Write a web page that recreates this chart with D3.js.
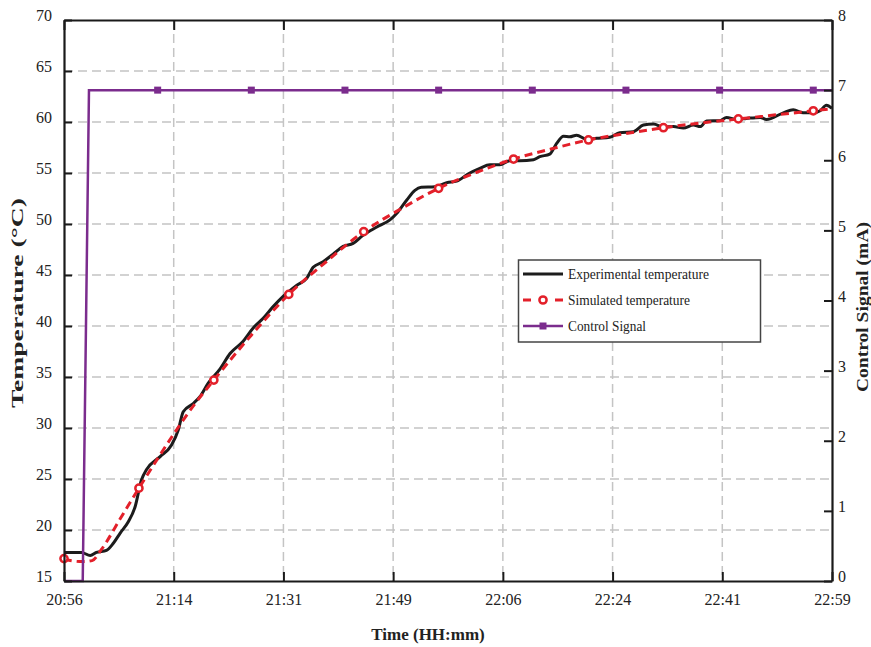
<!DOCTYPE html>
<html>
<head>
<meta charset="utf-8">
<script src="https://cdn.jsdelivr.net/npm/d3@7"></script>
<style>
  body { margin: 0; background: #fff; }
  svg { display: block; font-family: "Liberation Serif", "Times New Roman", serif; }
</style>
</head>
<body>
<div class="container"></div>
<script>
// time in minutes after 20:56
const xTickLabels = ["20:56", "21:14", "21:31", "21:49", "22:06", "22:24", "22:41", "22:59"];
const tempTicks = [15, 20, 25, 30, 35, 40, 45, 50, 55, 60, 65, 70];
const signalTicks = [0, 1, 2, 3, 4, 5, 6, 7, 8];

const expTime = [0, 2.8, 4.2, 5.2, 6.8, 7.9, 9.0, 10.3, 11.4, 12.4, 13.2, 15.4, 17.2, 18.3, 19.1, 20.7, 21.8, 23.1, 25,
                 26.6, 28.7, 30.3, 31.9, 33.5, 35.1, 37.3, 38.9, 39.9, 41.5, 43.1, 44.7, 46.3, 47.9, 50.1, 52.2, 53.3,
                 54.9, 56.2, 57.2, 59.4, 61.3, 62.9, 64.7, 66.6, 68.2, 69.8, 71.4, 73.0, 75.2, 76.2, 77.8, 78.9, 80,
                 81, 82.1, 83.7, 85.3, 87.4, 89, 91.2, 92.8, 94.4, 96, 97.6, 99.2, 100.8, 101.9, 102.9, 105.1, 106.1,
                 107.7, 109.3, 111.5, 112.5, 115.2, 116.8, 118.4, 120, 121.1, 122.1, 123];
const expTemp = [17.8, 17.8, 17.5, 17.8, 18.0, 18.7, 19.7, 20.8, 22.3, 24.9, 25.9, 27.2, 28.3, 29.8, 31.6, 32.4, 33.1, 34.4, 35.8,
                 37.3, 38.5, 39.8, 40.75, 41.9, 42.9, 44.0, 44.7, 45.75, 46.3, 47.05, 47.8, 48.1, 48.9, 49.7, 50.4, 51.05,
                 52.35, 53.3, 53.6, 53.65, 54.05, 54.2, 54.9, 55.45, 55.8, 55.8, 56.2, 56.2, 56.3, 56.6, 56.85, 57.9, 58.6,
                 58.55, 58.7, 58.3, 58.4, 58.5, 58.95, 59.05, 59.7, 59.8, 59.5, 59.55, 59.4, 59.7, 59.55, 60.1, 60.13, 60.45,
                 60.25, 60.35, 60.45, 60.25, 60.9, 61.2, 60.9, 60.9, 61.1, 61.65, 61.35];

const simTime = [0, 1, 3, 4.5, 6, 9, 12, 15, 18, 21, 24, 30, 36, 42, 48, 54, 60, 66, 72, 78, 84, 90, 96, 102, 108, 114, 120, 123];
const simTemp = [17.2, 17.0, 16.9, 17.0, 18.1, 21.1, 24.1, 27.0, 29.8, 32.4, 34.7, 39.1, 43.1, 46.3, 49.25, 51.5, 53.5, 55.05,
                 56.37, 57.35, 58.24, 58.87, 59.44, 59.9, 60.3, 60.7, 61.1, 61.3];
const simMarkerEvery = 12;

const ctrlTime = [0, 3, 4, 15, 30, 45, 60, 75, 90, 105, 120, 123];
const ctrlValue = [0, 0, 7, 7, 7, 7, 7, 7, 7, 7, 7, 7];
const ctrlMarkerEvery = 15;

const width = 871, height = 647;
const margin = {left: 64, top: 20, right: 39, bottom: 66};

const svg = d3.select(".container")
              .append("svg")
              .attr("width", width)
              .attr("height", height);
svg.append("rect").attr("width", width).attr("height", height).attr("fill", "white");

const x = d3.scaleLinear().domain([0, 123]).range([margin.left, width - margin.right]);
const yT = d3.scaleLinear().domain([15, 70]).range([height - margin.bottom, margin.top]);
const yS = d3.scaleLinear().domain([0, 8]).range([height - margin.bottom, margin.top]);
const xTicks = xTickLabels.map((d, i) => i * 123 / (xTickLabels.length - 1));

// grid
const grid = svg.append("g").attr("stroke", "#c4c4c4").attr("stroke-width", 1.5).attr("stroke-dasharray", "9,5");
grid.selectAll(".h").data(tempTicks.slice(1, -1)).join("line")
    .attr("x1", x(0)).attr("x2", x(123)).attr("y1", d => yT(d)).attr("y2", d => yT(d));
grid.selectAll(".v").data(xTicks.slice(1, -1)).join("line")
    .attr("x1", d => x(d)).attr("x2", d => x(d)).attr("y1", yT(70)).attr("y2", yT(15));

const exp = expTime.map((t, i) => [t, expTemp[i]]);
const sim = simTime.map((t, i) => [t, simTemp[i]]);
const ctrl = ctrlTime.map((t, i) => [t, ctrlValue[i]]);

const tempLine = d3.line().x(d => x(d[0])).y(d => yT(d[1])).curve(d3.curveMonotoneX);

svg.append("path").datum(exp).attr("d", tempLine)
   .attr("fill", "none").attr("stroke", "#1c1c1c").attr("stroke-width", 3).attr("stroke-linejoin", "round");
svg.append("path").datum(sim).attr("d", tempLine)
   .attr("fill", "none").attr("stroke", "#e3202a").attr("stroke-width", 3).attr("stroke-dasharray", "8,5");
svg.selectAll(".simdot").data(sim.filter(d => d[0] % simMarkerEvery === 0)).join("circle")
   .attr("cx", d => x(d[0])).attr("cy", d => yT(d[1])).attr("r", 3.6)
   .attr("fill", "white").attr("stroke", "#e3202a").attr("stroke-width", 2.5);

svg.append("path").datum(ctrl)
   .attr("d", d3.line().x(d => x(d[0])).y(d => yS(d[1])))
   .attr("fill", "none").attr("stroke", "#7b2c8d").attr("stroke-width", 2.5);
svg.selectAll(".ctrldot").data(ctrl.filter(d => d[0] > 0 && d[0] % ctrlMarkerEvery === 0)).join("rect")
   .attr("x", d => x(d[0]) - 3.5).attr("y", d => yS(d[1]) - 3.5).attr("width", 7).attr("height", 7)
   .attr("fill", "#7b2c8d");

// axes
function styleAxis(g) {
    g.select(".domain").attr("stroke", "#1a1a1a").attr("stroke-width", 2.2);
    g.selectAll(".tick line").attr("stroke", "#1a1a1a").attr("stroke-width", 2);
    g.selectAll("text").attr("font-size", 16).attr("fill", "#222").attr("font-family", "Liberation Serif");
}
svg.append("g").attr("transform", `translate(0,${yT(15)})`)
   .call(d3.axisBottom(x).tickValues(xTicks).tickFormat((d, i) => xTickLabels[i]).tickSize(-9).tickSizeOuter(0).tickPadding(13))
   .call(styleAxis);
svg.append("g").attr("transform", `translate(0,${yT(70)})`)
   .call(d3.axisTop(x).tickValues(xTicks).tickFormat("").tickSize(-10).tickSizeOuter(0))
   .call(styleAxis);
svg.append("g").attr("transform", `translate(${x(0)},0)`)
   .call(d3.axisLeft(yT).tickValues(tempTicks).tickSize(-8).tickSizeOuter(0).tickPadding(12))
   .call(styleAxis)
   .selectAll("text").attr("dy", "0.05em");
svg.append("g").attr("transform", `translate(${x(123)},0)`)
   .call(d3.axisRight(yS).tickValues(signalTicks).tickSize(-8).tickSizeOuter(0).tickPadding(6))
   .call(styleAxis)
   .selectAll("text").attr("dy", "0.05em");

// axis titles (the source figure is stretched vertically, so the rotated titles get a fixed length)
svg.append("text").attr("x", 428).attr("y", 640).attr("text-anchor", "middle")
   .attr("font-weight", "bold").attr("font-size", 17).attr("fill", "#222").text("Time (HH:mm)");
svg.append("text").attr("transform", "translate(23,303) rotate(-90)").attr("text-anchor", "middle")
   .attr("font-weight", "bold").attr("font-size", 17).attr("fill", "#222")
   .attr("textLength", 210).attr("lengthAdjust", "spacingAndGlyphs").text("Temperature (°C)");
svg.append("text").attr("transform", "translate(868,307) rotate(-90)").attr("text-anchor", "middle")
   .attr("font-weight", "bold").attr("font-size", 17).attr("fill", "#222")
   .attr("textLength", 170).attr("lengthAdjust", "spacingAndGlyphs").text("Control Signal (mA)");

// legend
const legend = svg.append("g");
legend.append("rect").attr("x", 518.5).attr("y", 260).attr("width", 242).attr("height", 82)
      .attr("fill", "white").attr("stroke", "#444").attr("stroke-width", 1.5);
const legendRows = [
    {label: "Experimental temperature", color: "#1c1c1c", dash: null, mark: null, len: 141},
    {label: "Simulated temperature", color: "#e3202a", dash: "8,8", mark: "circle", len: 122},
    {label: "Control Signal", color: "#7b2c8d", dash: null, mark: "square", len: 78}
];
legendRows.forEach((r, i) => {
    const yy = 274 + i * 26;
    legend.append("line").attr("x1", 523).attr("x2", 563).attr("y1", yy).attr("y2", yy)
          .attr("stroke", r.color).attr("stroke-width", r.mark === "square" ? 2.5 : 3)
          .attr("stroke-dasharray", r.dash);
    if (r.mark === "circle")
        legend.append("circle").attr("cx", 543).attr("cy", yy).attr("r", 3.6)
              .attr("fill", "white").attr("stroke", r.color).attr("stroke-width", 2.5);
    if (r.mark === "square")
        legend.append("rect").attr("x", 539.5).attr("y", yy - 3.5).attr("width", 7).attr("height", 7).attr("fill", r.color);
    legend.append("text").attr("x", 568).attr("y", yy + 5).attr("font-size", 15.5).attr("fill", "#222")
          .attr("textLength", r.len).attr("lengthAdjust", "spacingAndGlyphs").text(r.label);
});
</script>
</body>
</html>
